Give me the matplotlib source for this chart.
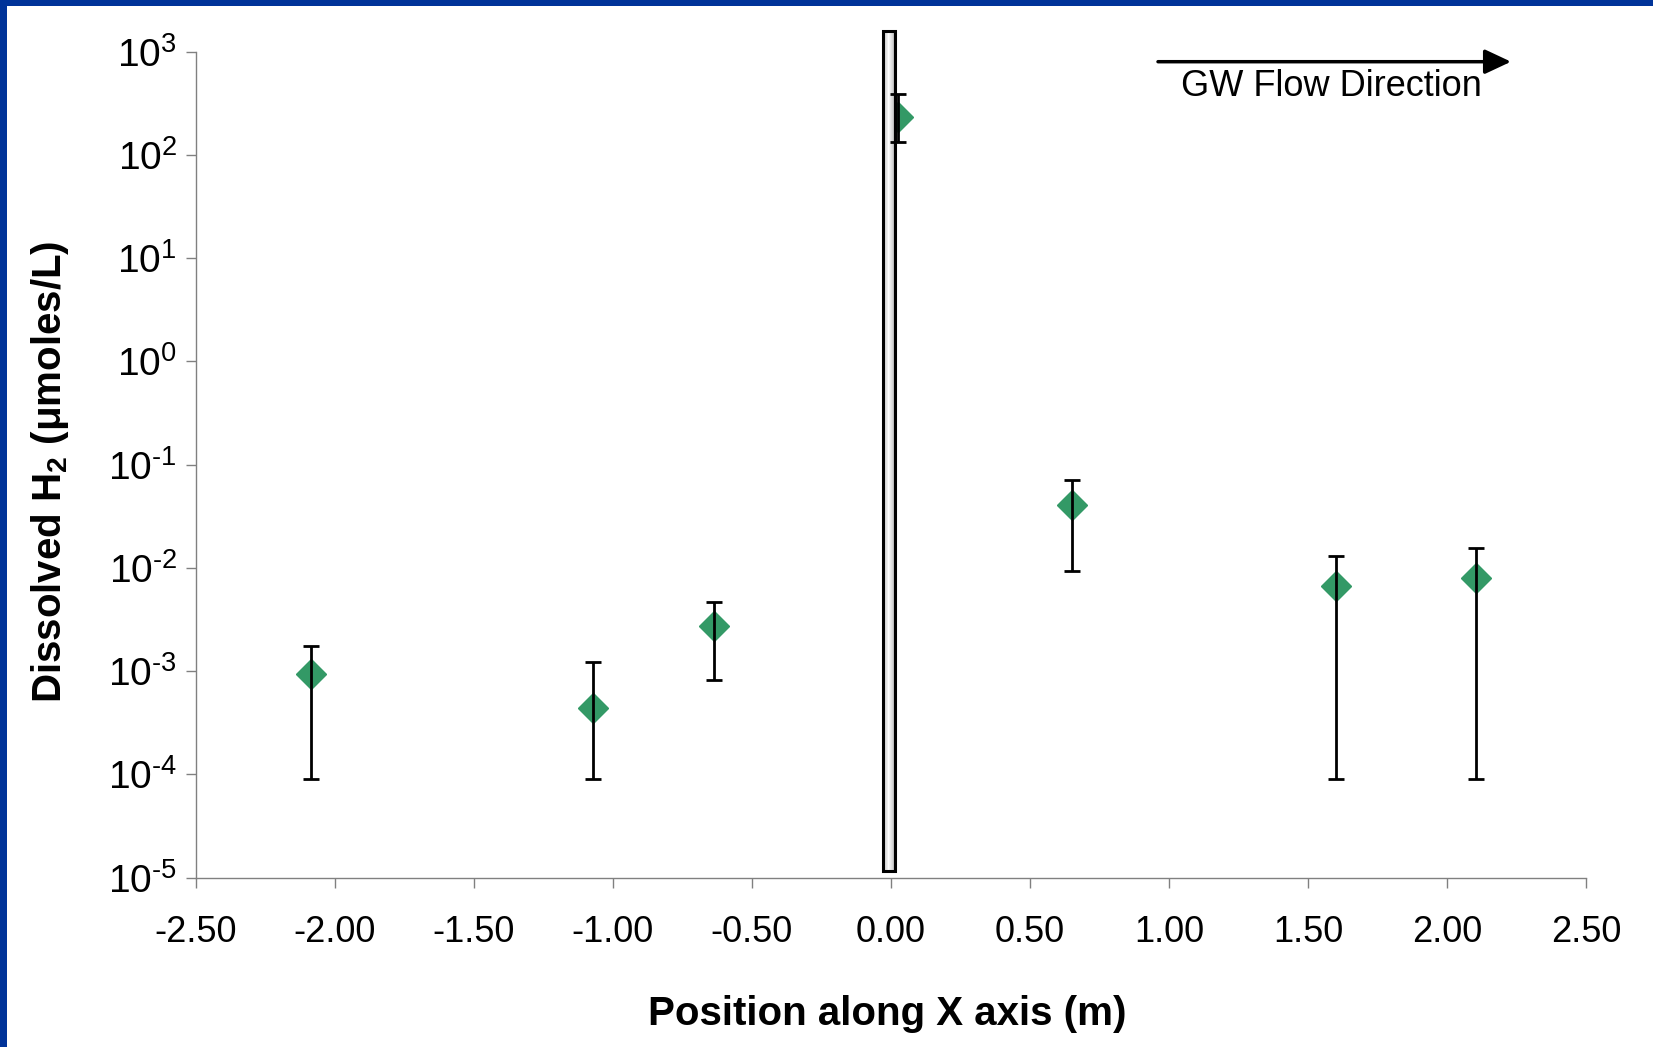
import matplotlib
matplotlib.use("Agg")
import matplotlib.pyplot as plt
from matplotlib.patches import Rectangle
from matplotlib.ticker import FixedLocator, NullLocator, FuncFormatter

plt.rcParams['font.family'] = ['Liberation Sans', 'DejaVu Sans']
plt.rcParams['mathtext.fontset'] = 'custom'
plt.rcParams['mathtext.rm'] = 'Liberation Sans'
plt.rcParams['mathtext.it'] = 'Liberation Sans:italic'
plt.rcParams['mathtext.bf'] = 'Liberation Sans:bold'
plt.rcParams['axes.unicode_minus'] = False

# ---- data ----
positions = [-2.086, -1.07, -0.635, 0.024, 0.650, 1.600, 2.104]
h2_values = [9.35e-4, 4.42e-4, 2.77e-3, 232.0, 0.0404, 6.64e-3, 8.0e-3]
err_upper = [1.76e-3, 1.23e-3, 4.69e-3, 392.0, 0.0705, 0.0131, 0.0157]
err_lower = [9.0e-5, 9.0e-5, 8.2e-4, 133.6, 9.36e-3, 9.0e-5, 9.0e-5]
x_ticks = [-2.5, -2.0, -1.5, -1.0, -0.5, 0.0, 0.5, 1.0, 1.5, 2.0, 2.5]
y_exponents = [-5, -4, -3, -2, -1, 0, 1, 2, 3]
wall_x = [-0.027, 0.015]
wall_y = [1.16e-5, 1.6e3]

W, H = 1653, 1047
fig = plt.figure(figsize=(W / 100, H / 100), dpi=100)
fig.patch.set_facecolor('white')

# blue frame on top and left
fig.patches.append(Rectangle((0, 1 - 6 / H), 1, 6 / H, transform=fig.transFigure,
                             facecolor='#003399', edgecolor='none', zorder=0))
fig.patches.append(Rectangle((0, 0), 7 / W, 1, transform=fig.transFigure,
                             facecolor='#003399', edgecolor='none', zorder=0))

left, right = 195.7 / W, 1586 / W
bottom, top = (H - 877.7) / H, (H - 51.7) / H
ax = fig.add_axes([left, bottom, right - left, top - bottom])
ax.set_yscale('log')
ax.set_xlim(-2.5, 2.5)
ax.set_ylim(1e-5, 1e3)

for s in ['top', 'right']:
    ax.spines[s].set_visible(False)
for s in ['left', 'bottom']:
    ax.spines[s].set_color('#808080')
    ax.spines[s].set_linewidth(1.0)

# diamonds (below wall)
ax.plot(positions, h2_values, linestyle='none', marker='D', markersize=15,
        markerfacecolor='#339966', markeredgecolor='#339966', zorder=2, clip_on=False)

# wall with gradient
n = 14
wx0, wx1 = wall_x
dw = (wx1 - wx0) / n
for i in range(n):
    t = (i + 0.5) / n
    g = 1.0 - 0.3 * abs(t - 0.45) / 0.55
    ax.add_patch(Rectangle((wx0 + i * dw, wall_y[0]), dw, wall_y[1] - wall_y[0],
                           facecolor=(g, g, g), edgecolor='none', zorder=3, clip_on=False))
ax.add_patch(Rectangle((wx0, wall_y[0]), wx1 - wx0, wall_y[1] - wall_y[0],
                       facecolor='none', edgecolor='black', linewidth=2.2, zorder=3.5,
                       clip_on=False))

# error bars (on top)
yerr = [[v - lo for v, lo in zip(h2_values, err_lower)],
        [hi - v for v, hi in zip(h2_values, err_upper)]]
ax.errorbar(positions, h2_values, yerr=yerr, fmt='none', ecolor='black',
            elinewidth=2.0, capsize=5.6, capthick=2.0, zorder=4, clip_on=False)

# ticks
ax.xaxis.set_major_locator(FixedLocator(x_ticks))
ax.xaxis.set_major_formatter(FuncFormatter(lambda v, p: f"{v:.2f}"))
ax.yaxis.set_major_locator(FixedLocator([10.0 ** e for e in y_exponents]))
ax.yaxis.set_minor_locator(NullLocator())


def ylab(e):
    s = str(e).replace('-', '\u2010')
    return f"$\\mathregular{{10^{{{s}}}}}$"


ax.set_yticklabels([ylab(e) for e in y_exponents])
ax.tick_params(axis='both', which='major', direction='out', length=7.5, width=1.0,
               color='#808080', labelcolor='black')
ax.tick_params(axis='x', pad=19, labelsize=26)
ax.tick_params(axis='y', pad=6, labelsize=28)

# axis labels
fig.text(50 / W, 1 - 472 / H, 'Dissolved H$_\\mathbf{2}$ (\u03bcmoles/L)', rotation=90,
         ha='center', va='center', fontsize=29, fontweight='bold')
fig.text(887 / W, 1 - 1014 / H, 'Position along X axis (m)', ha='center', va='center',
         fontsize=29, fontweight='bold')

# flow direction arrow
ya = 1 - (61.7 - 51.7) / (877.7 - 51.7)
ax.annotate('', xy=((1511 - 195.7) / (1586 - 195.7), ya),
            xytext=((1158 - 195.7) / (1586 - 195.7), ya),
            xycoords='axes fraction', textcoords='axes fraction',
            arrowprops=dict(arrowstyle='-|>,head_length=1.6,head_width=0.75',
                            color='black', lw=2.5, shrinkA=0, shrinkB=0),
            annotation_clip=False)
fig.text(1331.5 / W, 1 - 86 / H, 'GW Flow Direction', ha='center', va='center', fontsize=26)

fig.savefig('out.png', dpi=100)
